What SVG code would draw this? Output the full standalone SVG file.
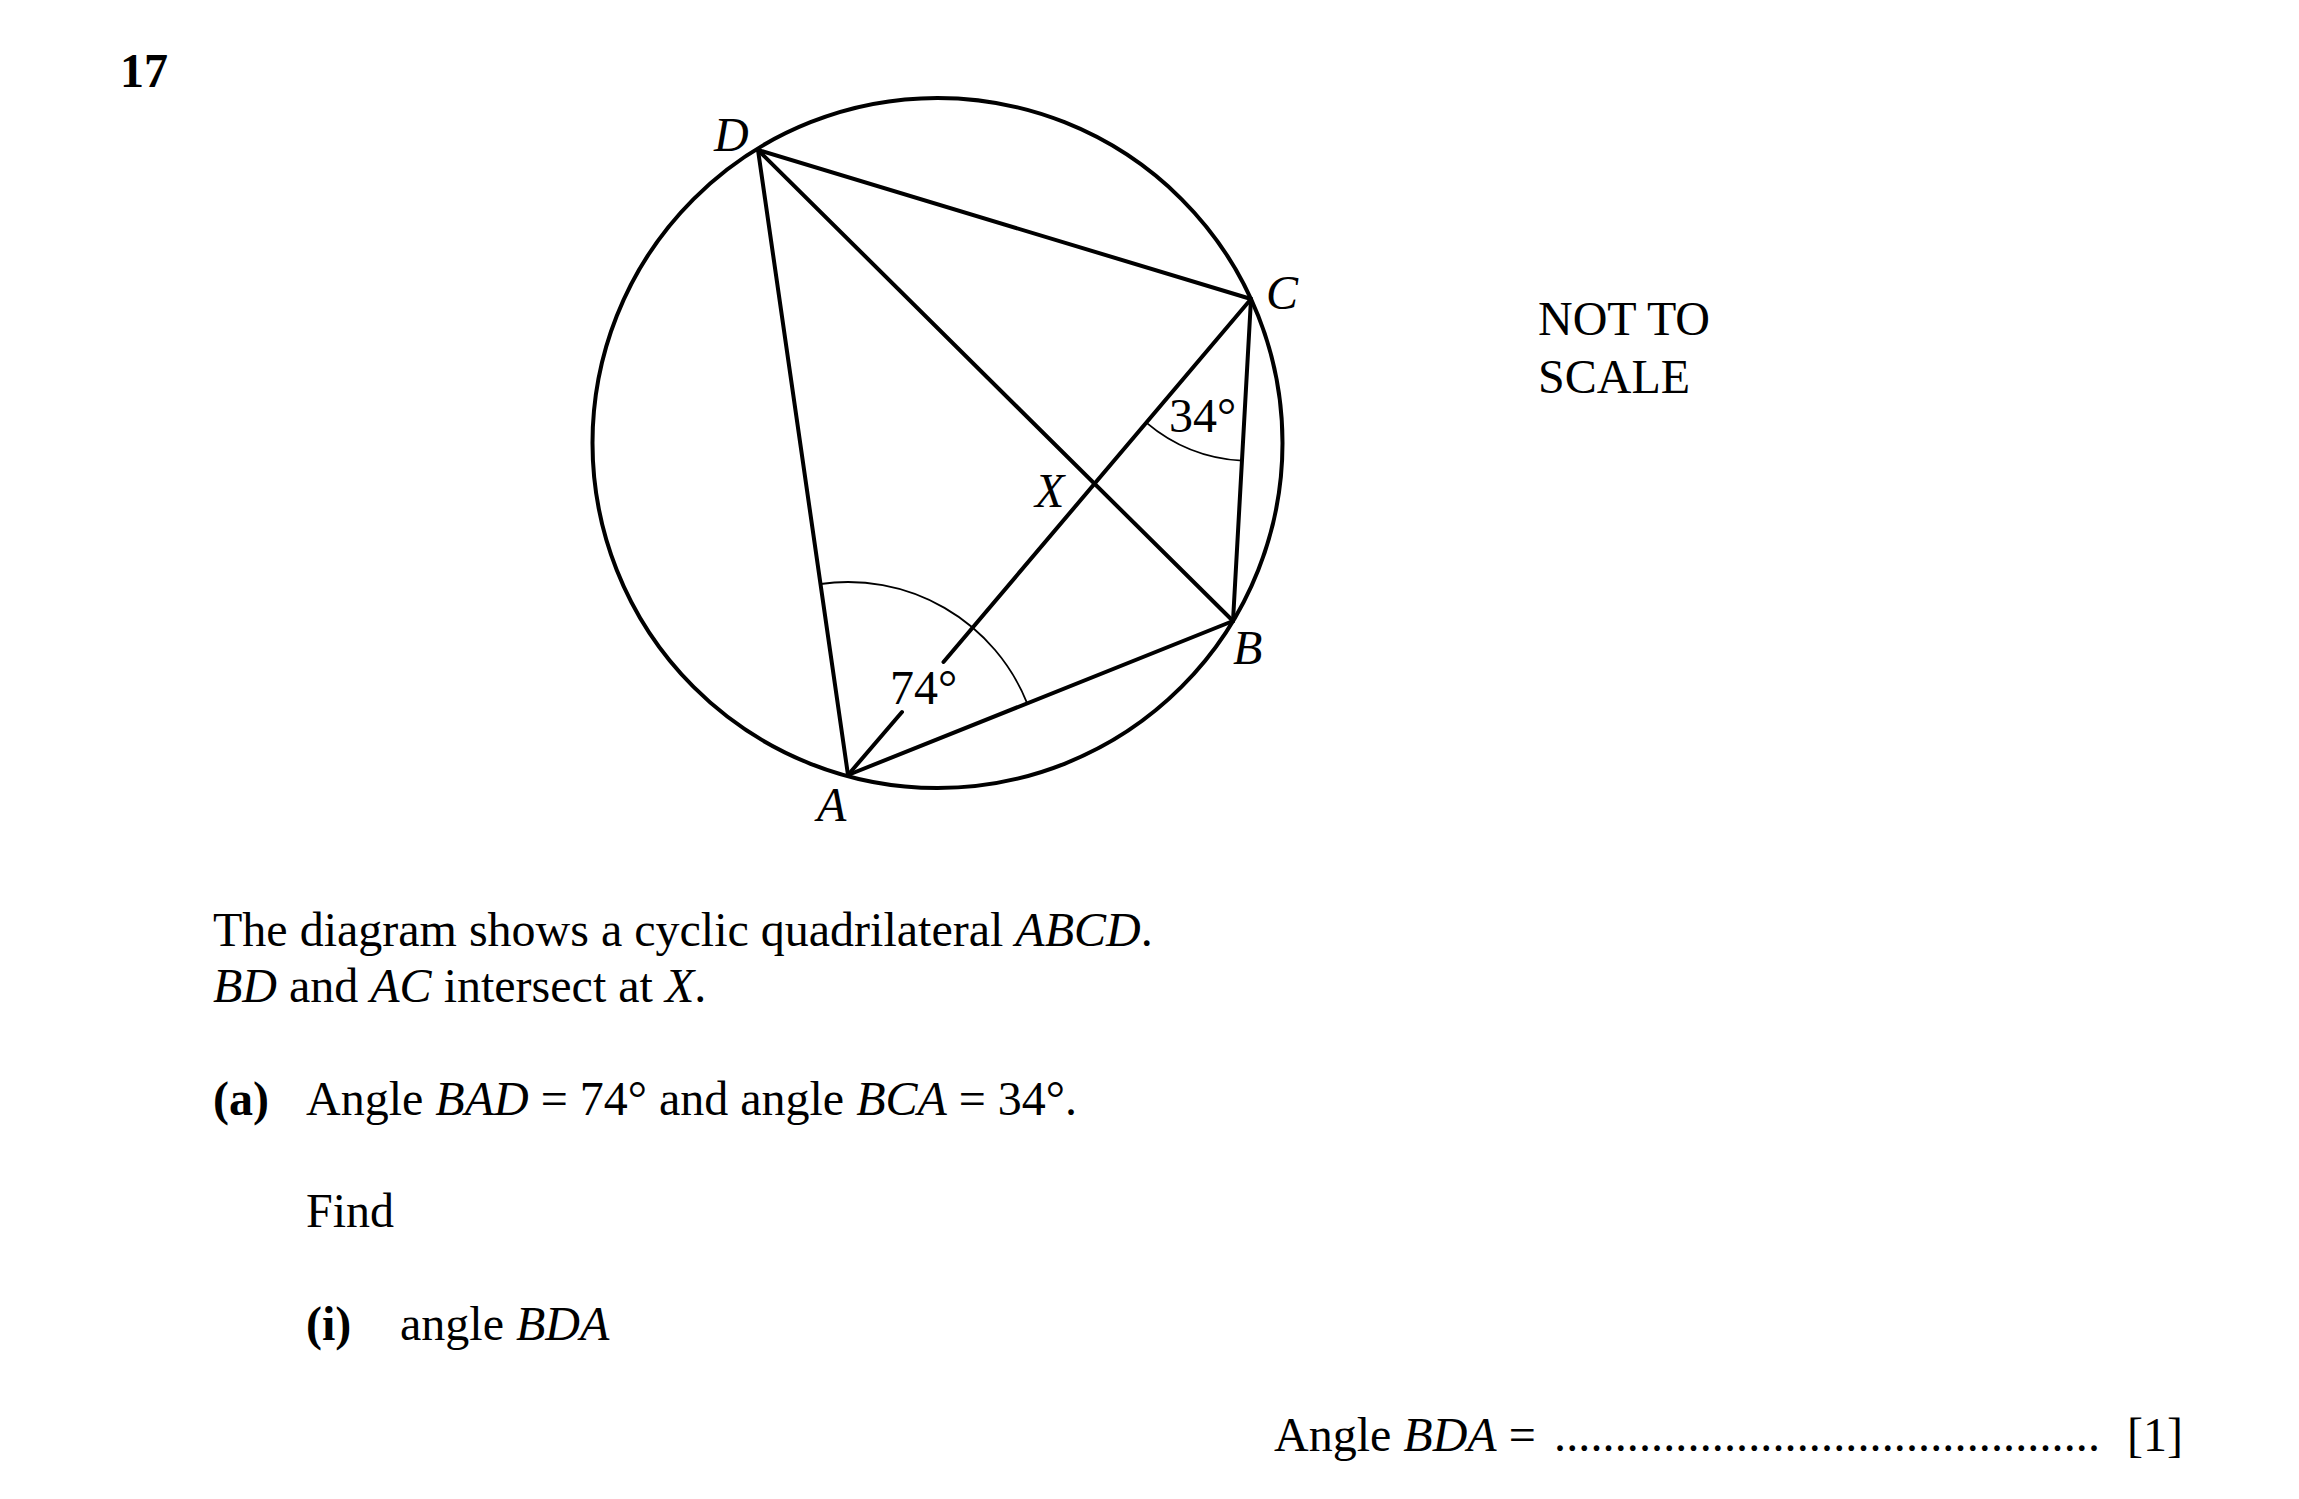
<svg xmlns="http://www.w3.org/2000/svg" width="2299" height="1499" viewBox="0 0 2299 1499">
<style>
.t{font-family:"Liberation Serif","Times New Roman",serif;font-size:48px;fill:#000}
.i{font-style:italic}
.b{font-weight:bold}
.ln{stroke:#000;stroke-width:4;fill:none;stroke-linecap:round;stroke-linejoin:round}
.arc{stroke:#000;stroke-width:1.8;fill:none}
</style>
<rect width="2299" height="1499" fill="#fff"/>
<text class="t b" x="120" y="87">17</text>
<g id="circle"><circle class="ln" cx="937.5" cy="443" r="345"/></g>
<g id="connectors">
<line class="ln" x1="758" y1="150" x2="1251" y2="299"/>
<line class="ln" x1="758" y1="150" x2="848" y2="775"/>
<line class="ln" x1="758" y1="150" x2="1233" y2="621"/>
<line class="ln" x1="848" y1="775" x2="1233" y2="621"/>
<line class="ln" x1="1233" y1="621" x2="1251" y2="299"/>
<line class="ln" x1="848" y1="775" x2="902" y2="712"/>
<line class="ln" x1="943.5" y1="662" x2="1251" y2="299"/>
<path class="arc" d="M 820.5 584 A 193 193 0 0 1 1027.2 703.3"/>
<path class="arc" d="M 1146.3 422.6 A 162 162 0 0 0 1242 460.7"/>
</g>
<g id="node-D"><text class="t i" x="714" y="151">D</text></g>
<g id="node-C"><text class="t i" x="1266" y="309">C</text></g>
<g id="node-B"><text class="t i" x="1233" y="664">B</text></g>
<g id="node-A"><text class="t i" x="817" y="821">A</text></g>
<g id="node-X"><text class="t i" x="1035" y="507">X</text></g>
<g id="angle-C"><text class="t" x="1169" y="432">34°</text></g>
<g id="angle-A"><text class="t" x="890" y="704">74°</text></g>
<g id="note"><text class="t" x="1538" y="335">NOT TO</text><text class="t" x="1538" y="393">SCALE</text></g>
<g id="question">
<text class="t" x="213" y="946">The diagram shows a cyclic quadrilateral <tspan class="i">ABCD</tspan>.</text>
<text class="t" x="213" y="1002"><tspan class="i">BD</tspan> and <tspan class="i">AC</tspan> intersect at <tspan class="i">X</tspan>.</text>
<text class="t b" x="213" y="1115">(a)</text>
<text class="t" x="306" y="1115">Angle <tspan class="i">BAD</tspan> = 74° and angle <tspan class="i">BCA</tspan> = 34°.</text>
<text class="t" x="306" y="1227">Find</text>
<text class="t b" x="306" y="1340">(i)</text>
<text class="t" x="400" y="1340">angle <tspan class="i">BDA</tspan></text>
<text class="t" x="1274" y="1451">Angle <tspan class="i">BDA</tspan> =</text>
<text class="t" x="1554" y="1451" textLength="546" lengthAdjust="spacing">.............................................</text>
<text class="t" x="2127" y="1451">[1]</text>
</g>
</svg>
